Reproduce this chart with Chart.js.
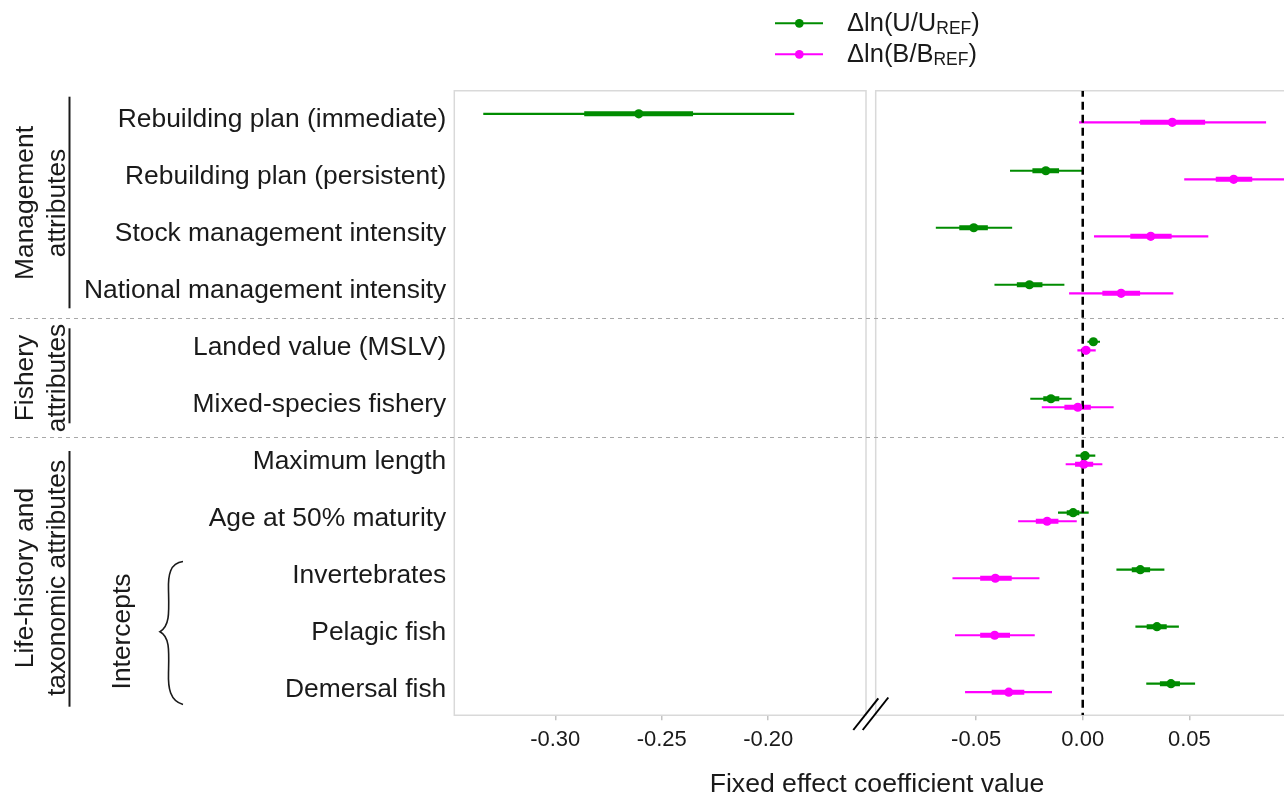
<!DOCTYPE html>
<html>
<head>
<meta charset="utf-8">
<script src="https://cdn.jsdelivr.net/npm/chart.js@4.4.1/dist/chart.umd.min.js"></script>
<style>
html,body{margin:0;padding:0;background:#ffffff;overflow:hidden}
#wrap{position:relative;width:1284px;height:799px;background:#ffffff}
#wrap canvas{position:absolute;left:0;top:0}
</style>
</head>
<body>
<div id="wrap">
<canvas id="cL" width="1284" height="799"></canvas>
<canvas id="cR" width="1284" height="799"></canvas>
</div>
<script>
// ---------------- DATA ----------------
const categories = [
  'Rebuilding plan (immediate)',
  'Rebuilding plan (persistent)',
  'Stock management intensity',
  'National management intensity',
  'Landed value (MSLV)',
  'Mixed-species fishery',
  'Maximum length',
  'Age at 50% maturity',
  'Invertebrates',
  'Pelagic fish',
  'Demersal fish'
];
// Δln(U/U_REF): estimate, outer interval, inner interval
const uEst  = [-0.2608, -0.0173, -0.0511, -0.0250, 0.0050, -0.0149, 0.0011, -0.0045, 0.0270, 0.0348, 0.0414];
const uLo95 = [-0.3338, -0.0341, -0.0689, -0.0414, 0.0022, -0.0246, -0.0033, -0.0116, 0.0158, 0.0247, 0.0298];
const uHi95 = [-0.1878, -0.0003, -0.0331, -0.0086, 0.0081, -0.0052, 0.0059, 0.0028, 0.0383, 0.0451, 0.0527];
const uLo50 = [-0.2864, -0.0236, -0.0579, -0.0309, 0.0035, -0.0185, -0.0010, -0.0075, 0.0230, 0.0300, 0.0362];
const uHi50 = [-0.2353, -0.0111, -0.0445, -0.0189, 0.0065, -0.0110, 0.0030, -0.0016, 0.0316, 0.0394, 0.0456];
// Δln(B/B_REF)
const bEst  = [0.0420, 0.0708, 0.0319, 0.0180, 0.0015, -0.0023, 0.0005, -0.0167, -0.0410, -0.0413, -0.0347];
const bLo95 = [-0.0017, 0.0476, 0.0053, -0.0064, -0.0025, -0.0192, -0.0080, -0.0303, -0.0611, -0.0599, -0.0552];
const bHi95 = [0.0860, 0.0960, 0.0589, 0.0425, 0.0061, 0.0145, 0.0092, -0.0028, -0.0203, -0.0225, -0.0144];
const bLo50 = [0.0269, 0.0624, 0.0223, 0.0092, -0.0005, -0.0086, -0.0036, -0.0220, -0.0481, -0.0481, -0.0427];
const bHi50 = [0.0574, 0.0795, 0.0417, 0.0269, 0.0035, 0.0038, 0.0049, -0.0114, -0.0333, -0.0341, -0.0274];

const leftTicks  = [-0.30, -0.25, -0.20];
const rightTicks = [-0.05, 0.00, 0.05];
const leftRange  = [-0.3474, -0.1541];
const rightRange = [-0.0971, 0.0944];
const refValue = 0;
const groupDividers = [3.5, 5.6];
const seriesLabels = [['\u0394ln(U/U', 'REF', ')'], ['\u0394ln(B/B', 'REF', ')']];
const groupLabels = [
  {lines: ['Management', 'attributes'], center: 203, y0: 96.7, y1: 308.3},
  {lines: ['Fishery', 'attributes'], center: 378, y0: 328.3, y1: 423.3},
  {lines: ['Life-history and', 'taxonomic attributes'], center: 578, y0: 451, y1: 706.7}
];
const subGroupLabel = 'Intercepts';
const axisTitle = 'Fixed effect coefficient value';

// ---------------- LAYOUT / STYLE ----------------
const W = 1284, H = 799, TOP = 90.7, BOTTOM = 715.3;
const PANEL_A = {left: 454.3, right: 866};
const PANEL_B = {left: 875.7, right: 1284};
const Y_MIN = -0.48, Y_MAX = 10.48, OFF = 0.075;
const GREEN = '#008c00', MAGENTA = '#ff00ff', INK = '#1a1a1a';
const FONT = "'Liberation Sans', Arial, Helvetica, sans-serif";
Chart.defaults.font.family = FONT;
Chart.defaults.color = INK;

function ciData(lo, hi, off) {
  const d = [];
  for (let i = 0; i < lo.length; i++) {
    d.push({x: lo[i], y: i + off}, {x: hi[i], y: i + off}, {x: null, y: null});
  }
  return d;
}
function ptData(est, off) { return est.map((v, i) => ({x: v, y: i + off})); }

function makeDatasets() {
  const line = (data, color, width, order) => ({
    type: 'line', data, borderColor: color, borderWidth: width, borderCapStyle: 'butt',
    pointRadius: 0, fill: false, tension: 0, spanGaps: false, order, clip: 0
  });
  return [
    {type: 'scatter', data: ptData(uEst, -OFF), pointRadius: 4.6, pointBackgroundColor: GREEN, pointBorderWidth: 0, order: 0, clip: 0},
    {type: 'scatter', data: ptData(bEst, OFF), pointRadius: 4.6, pointBackgroundColor: MAGENTA, pointBorderWidth: 0, order: 0, clip: 0},
    Object.assign(line([{x: refValue, y: Y_MIN}, {x: refValue, y: Y_MAX}], '#000000', 2.5, 1), {borderDash: [8, 5], borderDashOffset: 2}),
    line(ciData(uLo50, uHi50, -OFF), GREEN, 5, 2),
    line(ciData(bLo50, bHi50, OFF), MAGENTA, 5, 2),
    line(ciData(uLo95, uHi95, -OFF), GREEN, 2.2, 3),
    line(ciData(bLo95, bHi95, OFF), MAGENTA, 2.2, 3)
  ];
}

function xScale(range, tickVals) {
  return {
    type: 'linear', min: range[0], max: range[1],
    afterBuildTicks: s => { s.ticks = tickVals.map(v => ({value: v})); },
    ticks: {callback: v => Number(v).toFixed(2), font: {size: 22}, color: INK, padding: 6, autoSkip: false, maxRotation: 0},
    grid: {drawOnChartArea: false, drawTicks: true, tickLength: 5, color: '#c4c4c4', lineWidth: 1.5},
    border: {display: false},
    afterFit: s => { s.height = H - BOTTOM; }
  };
}

function panelBoxPlugin(drawRight) {
  return {
    id: 'panelBox',
    beforeDatasetsDraw(chart) {
      const {ctx, chartArea: a} = chart;
      ctx.save();
      ctx.strokeStyle = '#d9d9d9';
      ctx.lineWidth = 1.5;
      ctx.beginPath();
      if (drawRight) {
        ctx.moveTo(a.right, a.bottom); ctx.lineTo(a.left, a.bottom); ctx.lineTo(a.left, a.top); ctx.lineTo(a.right, a.top); ctx.closePath();
      } else {
        ctx.moveTo(a.right + 4, a.bottom); ctx.lineTo(a.left, a.bottom); ctx.lineTo(a.left, a.top); ctx.lineTo(a.right + 4, a.top);
      }
      ctx.stroke();
      ctx.restore();
    }
  };
}

const decorPlugin = {
  id: 'decor',
  afterDraw(chart) {
    const ctx = chart.ctx, ys = chart.scales.y;
    ctx.save();
    // group dividers
    ctx.strokeStyle = '#a8a8a8'; ctx.lineWidth = 1; ctx.setLineDash([4, 4]);
    groupDividers.forEach(v => {
      const y = Math.round(ys.getPixelForValue(v)) + 0.5;
      ctx.beginPath(); ctx.moveTo(10, y); ctx.lineTo(W, y); ctx.stroke();
    });
    ctx.setLineDash([]);

    // axis break marks
    ctx.strokeStyle = '#000'; ctx.lineWidth = 2;
    [[853.3, 730, 878.3, 698.3], [862.7, 730, 888.3, 697.5]].forEach(s => {
      ctx.beginPath(); ctx.moveTo(s[0], s[1]); ctx.lineTo(s[2], s[3]); ctx.stroke();
    });

    // group labels (rotated) and bars
    ctx.fillStyle = INK;
    ctx.font = '26.4px ' + FONT;
    ctx.textAlign = 'center'; ctx.textBaseline = 'alphabetic';
    groupLabels.forEach(g => {
      const xs = [33, 65];
      g.lines.forEach((t, k) => {
        ctx.save(); ctx.translate(xs[k], g.center); ctx.rotate(-Math.PI / 2); ctx.fillText(t, 0, 0); ctx.restore();
      });
      ctx.strokeStyle = INK; ctx.lineWidth = 2;
      ctx.beginPath(); ctx.moveTo(69.5, g.y0); ctx.lineTo(69.5, g.y1); ctx.stroke();
    });
    // Intercepts label + brace
    ctx.save(); ctx.translate(130, 631.5); ctx.rotate(-Math.PI / 2); ctx.fillText(subGroupLabel, 0, 0); ctx.restore();
    ctx.strokeStyle = INK; ctx.lineWidth = 1.6;
    ctx.beginPath();
    ctx.moveTo(183, 561.5);
    ctx.bezierCurveTo(170, 563, 168, 575, 168.5, 590);
    ctx.bezierCurveTo(169, 612, 170, 626, 160, 631.7);
    ctx.bezierCurveTo(170, 637, 169, 651, 168.5, 673);
    ctx.bezierCurveTo(168, 688, 170, 701, 183, 704.5);
    ctx.stroke();

    // axis title
    ctx.font = '26.6px ' + FONT;
    ctx.textAlign = 'center'; ctx.textBaseline = 'alphabetic';
    ctx.fillText(axisTitle, 877, 792);

    // legend
    const colors = [GREEN, MAGENTA];
    const ly = [23.3, 54.3];
    seriesLabels.forEach((parts, k) => {
      ctx.strokeStyle = colors[k]; ctx.lineWidth = 2;
      ctx.beginPath(); ctx.moveTo(775, ly[k]); ctx.lineTo(823, ly[k]); ctx.stroke();
      ctx.fillStyle = colors[k];
      ctx.beginPath(); ctx.arc(799.3, ly[k], 4.4, 0, Math.PI * 2); ctx.fill();
      ctx.fillStyle = INK; ctx.textAlign = 'left';
      let x = 847;
      const base = ly[k] + 7.8;
      ctx.font = '25.5px ' + FONT; ctx.fillText(parts[0], x, base); x += ctx.measureText(parts[0]).width;
      ctx.font = '17.5px ' + FONT; ctx.fillText(parts[1], x, base + 3); x += ctx.measureText(parts[1]).width;
      ctx.font = '25.5px ' + FONT; ctx.fillText(parts[2], x, base);
    });
    ctx.restore();
  }
};

const common = {
  responsive: false, animation: false, devicePixelRatio: 1, events: [],
  plugins: {legend: {display: false}, tooltip: {enabled: false}, title: {display: false}}
};

new Chart(document.getElementById('cL'), {
  type: 'scatter',
  data: {datasets: makeDatasets()},
  options: Object.assign({}, common, {
    layout: {autoPadding: false, padding: {left: 0, top: TOP, right: W - PANEL_A.right, bottom: 0}},
    scales: {
      x: xScale(leftRange, leftTicks),
      y: {
        type: 'linear', reverse: true, min: Y_MIN, max: Y_MAX,
        afterBuildTicks: s => { s.ticks = categories.map((c, i) => ({value: i})); },
        ticks: {callback: v => categories[Math.round(v)], font: {size: 26.4}, color: INK, padding: 8, autoSkip: false, labelOffset: 2},
        grid: {display: false, drawTicks: false},
        border: {display: false},
        afterFit: s => { s.width = PANEL_A.left; }
      }
    }
  }),
  plugins: [panelBoxPlugin(true)]
});

new Chart(document.getElementById('cR'), {
  type: 'scatter',
  data: {datasets: makeDatasets()},
  options: Object.assign({}, common, {
    layout: {autoPadding: false, padding: {left: PANEL_B.left, top: TOP, right: W - PANEL_B.right, bottom: 0}},
    scales: {
      x: xScale(rightRange, rightTicks),
      y: {type: 'linear', reverse: true, min: Y_MIN, max: Y_MAX, display: false}
    }
  }),
  plugins: [panelBoxPlugin(false), decorPlugin]
});
</script>
</body>
</html>
